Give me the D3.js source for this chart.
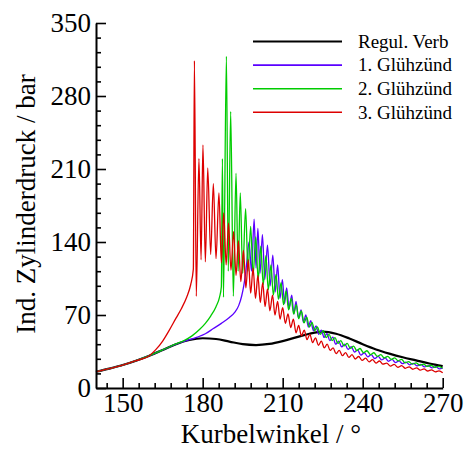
<!DOCTYPE html>
<html><head><meta charset="utf-8">
<script src="https://cdn.jsdelivr.net/npm/d3@7"></script>
<style>
body{margin:0;background:#fff}
svg{display:block}
text{font-family:"Liberation Serif","Times New Roman",serif;fill:#000}
</style>
</head><body>
<svg id="chart" width="465" height="449"></svg>
<script>
// ---- data (crank angle °, pressure bar) ----
const seriesNames = ["Regul. Verb", "1. Glühzünd", "2. Glühzünd", "3. Glühzünd"];
const seriesColors = ["#000000", "#5a00ff", "#00cc00", "#dd0000"];

const commonCompression = [[140,15.6],[145,18.6],[150,22],[155,26.2],[160,31]];

const regulVerb = [[165,36.5],[170,42],[175,46],[180,47.7],[185,47],[190,44.5],[195,42],[200,41.2],[205,42.3],[210,45],[215,48.5],[220,52],[225,54],[230,52],[235,47.5],[240,42],[245,37],[250,33],[255,29.5],[260,26.5],[265,23.5],[270,21]];

const gluehzuend1 = [[165,36.5],[170,42],[175,46.3],[178,48.8],[181,52],[184,57],[187,62],[190,67.5],[192,72.5],[193.5,79],[194.6,88],[195.4,98],[196.1,110],[196.6,122],
[197.4,140],[198.3,112],[199.3,162],[200.0,115],[200.7,153],[201.5,110],[202.4,147],[203.3,104],[204.3,137],[205.3,98],[206.3,127.5],[207.2,92],[208.1,118],[209.0,86],[209.9,104],[210.7,81],[211.5,96],[212.4,76],[213.4,89],[214.2,71],[215.0,83],[215.9,67],[216.9,75],[217.8,63],[218.7,70],[219.6,58.5],[220.5,64.5],[221.5,55],[222.5,59.5],[223.5,51.5],[224.5,55.5],[225.5,48.5],[226.6,52],[227.7,45.5],[228.8,48.7],[229.9,42],[231.0,45],[232.1,39.5],[233.3,42],[234.5,37],[235.7,39.6],[236.9,34.5],[238.1,36.5],[239.3,31.5],[240.6,33.8],[241.9,29.9],[243.2,32],[244.5,28.3],[245.8,30.3],[247.1,26.9],[248.4,28.8],[249.7,25.6],[251.0,27.4],[252.3,24.4],[253.6,26.1],[254.9,23.3],[256.2,24.9],[257.6,22.2],[259.0,23.7],[260.4,21.2],[261.8,22.6],[263.2,20.2],[264.6,21.5],[266.0,19.3],[267.4,20.5],[268.8,18.4],[270,19.3]];

const gluehzuend2 = [[165,36.5],[170,42.3],[173,45.5],[176,50],[179,56.5],[181,62],[183,69],[185,78],[186.3,87],[187.0,97],
[187.4,220],[187.8,87],[188.9,318],[189.6,112],[190.5,265],[191.5,88],[192.5,206],[193.3,112],[194.1,187],[195.0,110],[196.1,172],[197.0,112],[198.0,155],[198.9,108],[199.9,145],[200.8,104],[201.8,136],[202.7,99],[203.7,127],[204.6,94],[205.6,118],[206.5,89],[207.5,109],[208.4,85],[209.4,101],[210.3,80],[211.3,93],[212.2,75],[213.2,86],[214.1,71],[215.1,80],[216.0,66.5],[217.0,74],[218.0,62.5],[219.0,68],[220.0,58.5],[221.0,63],[222.0,55],[223.0,58.5],[224.1,51.5],[225.2,55],[226.3,48.3],[227.4,51.5],[228.5,45.5],[229.6,48.3],[230.7,42.8],[231.8,45.4],[233.0,40.3],[234.2,42.7],[235.4,38],[236.6,40.2],[237.8,35.8],[239.0,37.9],[240.3,33.8],[241.6,35.7],[242.9,32],[244.2,33.8],[245.5,30.3],[246.8,32],[248.1,28.8],[249.4,30.4],[250.7,27.4],[252.0,28.9],[253.3,26.1],[254.6,27.5],[255.9,24],[257.2,25.3],[258.6,22.9],[260.0,24.1],[261.4,21.8],[262.8,22.9],[264.2,20.8],[265.6,21.8],[267.0,19.8],[268.4,20.8],[270,18.9]];

const gluehzuend3 = [[162.5,37],[165,45],[167.5,55.5],[170,67],[172,76],[174,87],[175.5,99],[176.5,114],
[176.9,314],[177.6,88],[178.6,220],[179.4,123],[180.1,233],[181.0,121],[181.9,211],[183.0,128],[184.0,196],[185.0,124],[186.1,187],[187.0,120],[187.9,168],[188.8,118],[189.7,158],[190.6,113],[191.6,150],[192.5,108],[193.4,141],[194.3,102],[195.3,132],[196.2,96],[197.1,123],[198.0,91],[198.9,115],[199.8,86],[200.7,108],[201.6,82],[202.5,101],[203.4,78],[204.3,95],[205.2,74],[206.2,89],[207.1,70],[208.1,83],[209.0,66],[210.0,77],[211.0,62],[212.0,71],[213.0,58],[214.0,66],[215.0,53],[216.0,60],[217.0,50],[218.1,55.5],[219.1,46.5],[220.2,51.5],[221.2,43.5],[222.3,48],[223.4,41],[224.5,45],[225.6,38.5],[226.7,42],[227.8,36],[228.9,38.5],[230.0,33],[231.2,36],[232.4,31],[233.6,34],[234.8,29.3],[236.0,32],[237.2,27.8],[238.5,30.2],[239.8,26.4],[241.1,28.6],[242.4,25.1],[243.7,27.2],[245.0,23.9],[246.3,25.9],[247.6,22.8],[249.0,23.8],[250.4,21],[251.8,22.6],[253.2,19.9],[254.6,21.4],[256.0,18.9],[257.4,20.3],[258.8,18],[260.2,19.3],[261.6,17.1],[263.0,18.3],[264.4,16.3],[265.8,17.4],[267.2,15.5],[268.6,16.5],[270,14.6]];

const seriesData = [regulVerb, gluehzuend1, gluehzuend2, gluehzuend3].map(s => commonCompression.concat(s));

// ---- ticks ----
const xMajorTicks = [150, 180, 210, 240, 270];
const xMinorTicks = [144,156,162,168,174,186,192,198,204,216,222,228,234,246,252,258,264];
const yMajorTicks = [0, 70, 140, 210, 280, 350];
const yMinorTicks = [14,28,42,56,84,98,112,126,154,168,182,196,224,238,252,266,294,308,322,336];
const xTitle = "Kurbelwinkel / °";
const yTitle = "Ind. Zylinderdruck / bar";

// ---- layout ----
const svg = d3.select("#chart");
const x = d3.scaleLinear().domain([140, 270]).range([96, 442.7]);
const y = d3.scaleLinear().domain([0, 350]).range([388, 23]);

// lines
const line = d3.line().x(d => x(d[0])).y(d => y(d[1])).curve(d3.curveMonotoneX);
const order = [0, 1, 2, 3];
svg.append("g").selectAll("path").data(order).join("path")
  .attr("d", i => line(seriesData[i]))
  .attr("fill", "none")
  .attr("stroke", i => seriesColors[i])
  .attr("stroke-width", i => i === 0 ? 2.2 : 1.3)
  .attr("stroke-linejoin", "round");

// axes
const fontSize = 27;
const xAxis = svg.append("g").attr("transform", "translate(0,388)")
  .call(d3.axisBottom(x).tickValues(xMajorTicks).tickSize(-10).tickSizeOuter(0).tickPadding(5).tickFormat(d3.format("d")));
svg.append("g").attr("transform", "translate(0,388)")
  .call(d3.axisBottom(x).tickValues(xMinorTicks).tickSize(-5).tickSizeOuter(0).tickFormat(""))
  .select(".domain").remove();
const yAxis = svg.append("g").attr("transform", "translate(96,0)")
  .call(d3.axisLeft(y).tickValues(yMajorTicks).tickSize(-10).tickSizeOuter(0).tickPadding(5).tickFormat(d3.format("d")));
svg.append("g").attr("transform", "translate(96,0)")
  .call(d3.axisLeft(y).tickValues(yMinorTicks).tickSize(-5).tickSizeOuter(0).tickFormat(""))
  .select(".domain").remove();

svg.selectAll(".domain").attr("stroke", "#000").attr("stroke-width", 2);
svg.selectAll(".tick line").attr("stroke", "#000").attr("stroke-width", 1.6);
svg.selectAll(".tick text").attr("font-size", fontSize).attr("font-family", '"Liberation Serif", serif').attr("fill", "#000");

// titles
svg.append("text").attr("x", 271).attr("y", 443).attr("text-anchor", "middle")
  .attr("font-size", 27).text(xTitle);
svg.append("text").attr("transform", "translate(35,204) rotate(-90)").attr("text-anchor", "middle")
  .attr("font-size", 27).text(yTitle);

// legend
const legendY = [41.5, 65.1, 88.7, 112.3];
const lg = svg.append("g");
seriesNames.forEach((name, i) => {
  lg.append("line").attr("x1", 253).attr("x2", 342).attr("y1", legendY[i]).attr("y2", legendY[i])
    .attr("stroke", seriesColors[i]).attr("stroke-width", i === 0 ? 2.2 : 1.6);
  lg.append("text").attr("x", 358).attr("y", legendY[i]).attr("dy", "0.33em")
    .attr("font-size", 19).text(name);
});
</script>
</body></html>
